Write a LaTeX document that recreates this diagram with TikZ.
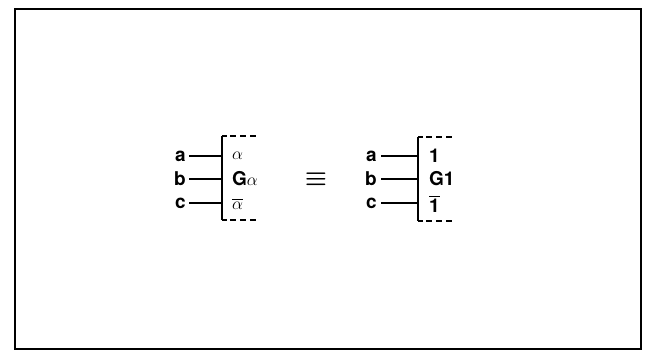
\documentclass[tikz,border=0pt]{standalone}
\usepackage{fontspec}
\usepackage{amsmath}
\setmainfont{TeX Gyre Heros}
\begin{document}
\begin{tikzpicture}[x=1pt,y=-1pt,
  lab/.style={font=\fontsize{19}{21}\selectfont\bfseries, inner sep=0pt, anchor=east},
  val/.style={font=\fontsize{19}{21}\selectfont\bfseries, inner sep=0pt, anchor=west},
  wire/.style={line width=1.8pt},
  dashwire/.style={line width=1.8pt, dash pattern=on 6pt off 4pt}]
\useasboundingbox (0,0) rectangle (646,353);
\fill[white] (0,0) rectangle (646,353);
\draw[line width=2pt] (15,9) rectangle (641,349);
% left group
\node[lab] (la) at (186,156) {a};
\node[lab] (lb) at (186,179) {b};
\node[lab] (lc) at (186,203) {c};
\coordinate (ltop) at (222,136);
\coordinate (lbot) at (222,220);
\draw[wire] (ltop) -- (lbot);
\draw[wire] (la.east) ++(3pt,0) -- (222,156);
\draw[wire] (lb.east) ++(3pt,0) -- (222,179);
\draw[wire] (lc.east) ++(3pt,0) -- (222,203);
\draw[wire] (ltop) -- ++(5,0);
\draw[dashwire] (230,136) -- (258,136);
\draw[wire] (lbot) -- ++(5,0);
\draw[dashwire] (230,220) -- (258,220);
\node[val] (va) at (232,156) {$\alpha$};
\node[val] (vb) at (232,179) {G$\alpha$};
\node[val] (vc) at (232,204) {$\overline{\alpha}$};
% equivalence
\node[font=\fontsize{24}{26}\selectfont, inner sep=0pt] (eq) at (316,179) {$\boldsymbol{\equiv}$};
% right group
\node[lab] (ra) at (377,156) {a};
\node[lab] (rb) at (377,179) {b};
\node[lab] (rc) at (377,203) {c};
\coordinate (rtop) at (418,137);
\coordinate (rbot) at (418,221);
\draw[wire] (rtop) -- (rbot);
\draw[wire] (ra.east) ++(4pt,0) -- (418,156);
\draw[wire] (rb.east) ++(4pt,0) -- (418,179);
\draw[wire] (rc.east) ++(4pt,0) -- (418,203);
\draw[wire] (rtop) -- ++(5,0);
\draw[dashwire] (426,137) -- (454,137);
\draw[wire] (rbot) -- ++(5,0);
\draw[dashwire] (426,221) -- (454,221);
\node[val] (wa) at (429,156) {1};
\node[val] (wb) at (429,179) {G1};
\node[val] (wc) at (429,204) {$\overline{\mbox{\bfseries 1}}$};
\end{tikzpicture}
\end{document}
